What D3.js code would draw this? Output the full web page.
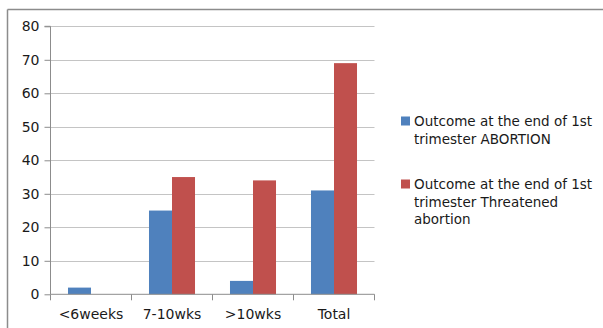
<!DOCTYPE html>
<html>
<head>
<meta charset="utf-8">
<script src="https://cdn.jsdelivr.net/npm/d3@7"></script>
<style>
  body { margin: 0; background: #fff; }
  text { font-family: "DejaVu Sans", sans-serif; fill: #1a1a1a; }
</style>
</head>
<body>
<div id="chart"></div>
<script>
// chart data
var categories = ["<6weeks", "7-10wks", ">10wks", "Total"];
var seriesNames = [
  "Outcome at the end of 1st trimester ABORTION",
  "Outcome at the end of 1st trimester Threatened abortion"
];
var abortion = [2, 25, 4, 31];
var threatened = [0, 35, 34, 69];
var yTicks = [0, 10, 20, 30, 40, 50, 60, 70, 80];
var legendLines = [
  ["Outcome at the end of 1st", "trimester ABORTION"],
  ["Outcome at the end of 1st", "trimester Threatened", "abortion"]
];

var colors = ["#4F81BD", "#C0504D"];

var svgWidth = 603;
var svgHeight = 328;

var svg = d3.select("#chart")
  .append("svg")
  .attr("width", svgWidth)
  .attr("height", svgHeight);

// outer frame (only top and left visible)
svg.append("line")
  .attr("x1", 7.5).attr("y1", 9.5).attr("x2", svgWidth).attr("y2", 9.5)
  .attr("stroke", "#8c8c8c").attr("stroke-width", 1.5);
svg.append("line")
  .attr("x1", 7.5).attr("y1", 9.5).attr("x2", 7.5).attr("y2", svgHeight)
  .attr("stroke", "#8c8c8c").attr("stroke-width", 1.5);

var plot = { left: 50.5, right: 374.5, top: 26.3, bottom: 294.3 };

var x = d3.scaleBand()
  .domain(categories)
  .range([plot.left, plot.right]);

var y = d3.scaleLinear()
  .domain([0, 80])
  .range([plot.bottom, plot.top]);

// gridlines
svg.append("g")
  .selectAll("line")
  .data(yTicks.filter(d => d > 0))
  .enter()
  .append("line")
  .attr("x1", plot.left)
  .attr("x2", plot.right)
  .attr("y1", d => Math.round(y(d)) + 0.5)
  .attr("y2", d => Math.round(y(d)) + 0.5)
  .attr("stroke", "#c4c4c4")
  .attr("stroke-width", 1);

// bars
var inner = d3.scaleBand()
  .domain([0, 1])
  .range([0, x.bandwidth()])
  .paddingOuter(0.76)
  .paddingInner(0);

var rows = categories.map((c, i) => ({ cat: c, vals: [abortion[i], threatened[i]] }));

var groups = svg.append("g")
  .selectAll("g")
  .data(rows)
  .enter()
  .append("g")
  .attr("transform", d => `translate(${x(d.cat)},0)`);

groups.selectAll("rect")
  .data(d => d.vals.map((v, k) => ({ v: v, k: k })))
  .enter()
  .append("rect")
  .filter(d => d.v > 0)
  .attr("x", d => inner(d.k))
  .attr("width", inner.bandwidth())
  .attr("y", d => y(d.v))
  .attr("height", d => y(0) - y(d.v))
  .attr("fill", d => colors[d.k]);

// y axis
var leftAxis = d3.axisLeft(y)
  .tickValues(yTicks)
  .tickSize(6)
  .tickPadding(5);

var yAxisG = svg.append("g")
  .attr("transform", `translate(${plot.left},0)`)
  .call(leftAxis)
  .attr("font-size", null)
  .attr("font-family", null);
yAxisG.select(".domain").attr("stroke", "#8c8c8c").attr("d", `M-6,${plot.top}H0V${plot.bottom}`);
yAxisG.selectAll(".tick line").attr("stroke", "#8c8c8c");
yAxisG.selectAll(".tick text")
  .style("font-size", "14px")
  .attr("fill", "#1a1a1a");

// x axis: ticks at band boundaries
var xAxisG = svg.append("g")
  .attr("transform", `translate(0,${plot.bottom})`);
xAxisG.append("line")
  .attr("x1", plot.left).attr("x2", plot.right)
  .attr("y1", 0).attr("y2", 0)
  .attr("stroke", "#8c8c8c");
var bounds = categories.map(c => x(c)).concat([plot.right]);
xAxisG.selectAll(".xtick")
  .data(bounds)
  .enter()
  .append("line")
  .attr("class", "xtick")
  .attr("x1", d => d).attr("x2", d => d)
  .attr("y1", 0).attr("y2", 6)
  .attr("stroke", "#8c8c8c");
xAxisG.selectAll(".xlabel")
  .data(categories)
  .enter()
  .append("text")
  .attr("class", "xlabel")
  .attr("x", d => x(d) + x.bandwidth() / 2)
  .attr("y", 25)
  .attr("text-anchor", "middle")
  .style("font-size", "14px")
  .text(d => d);

// legend
var legendTop = [121, 184];
var legend = svg.append("g");
legendLines.forEach(function(lines, i) {
  legend.append("rect")
    .attr("x", 401)
    .attr("y", legendTop[i] - 4.5)
    .attr("width", 9)
    .attr("height", 9)
    .attr("fill", colors[i]);
  legend.append("text")
    .attr("x", 414)
    .attr("y", legendTop[i] + 5)
    .style("font-size", "13.5px")
    .selectAll("tspan")
    .data(lines)
    .enter()
    .append("tspan")
    .attr("x", 414)
    .attr("dy", (d, j) => j === 0 ? 0 : 17.5)
    .text(d => d);
});
</script>
</body>
</html>
